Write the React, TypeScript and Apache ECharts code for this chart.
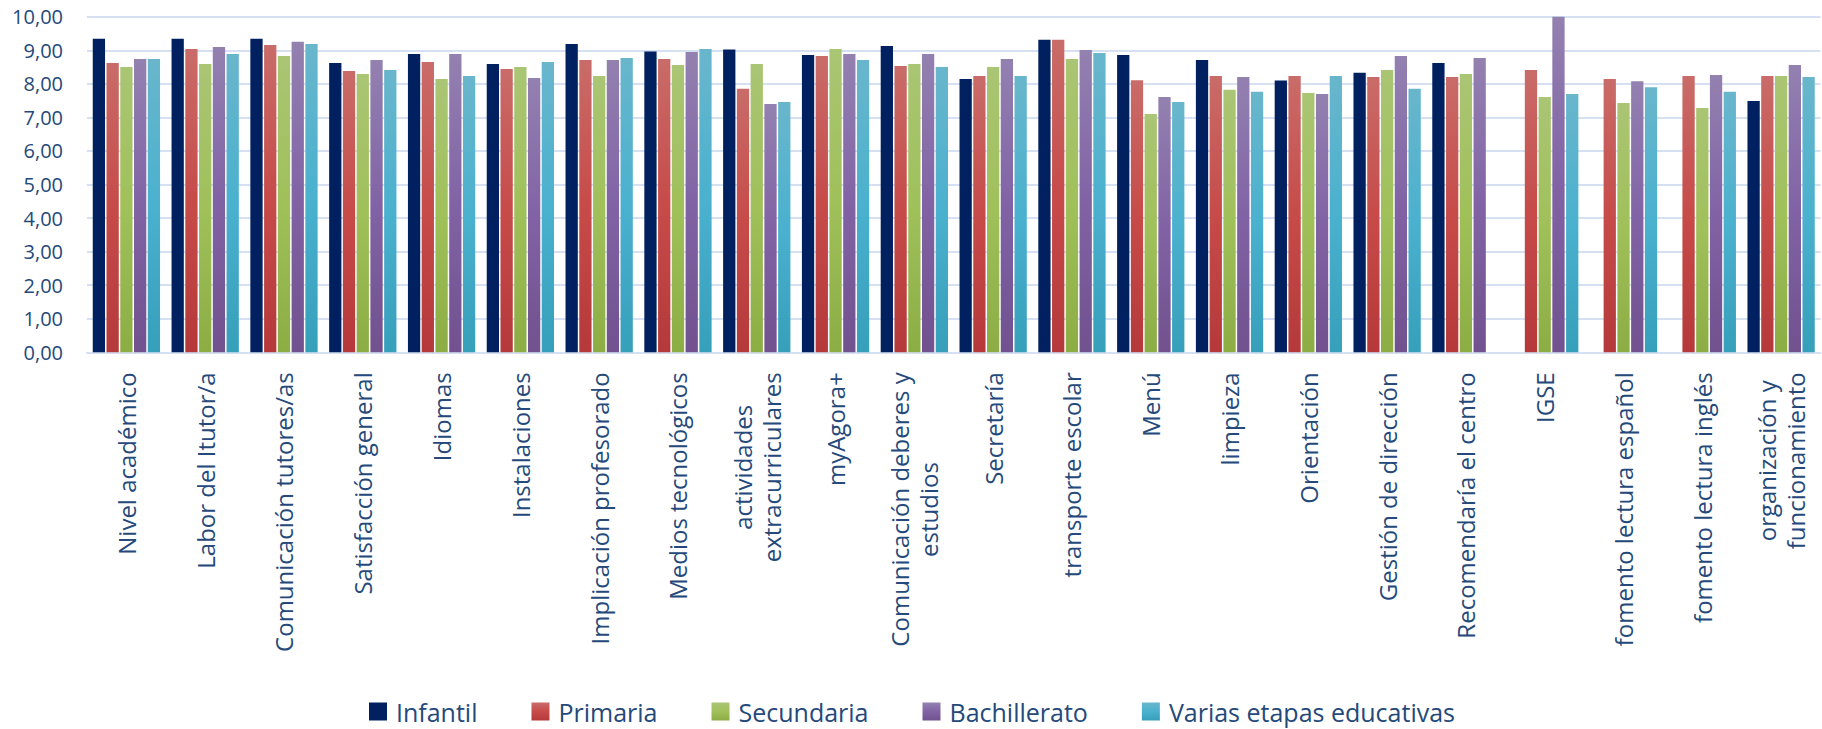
import React, { useEffect, useRef } from "react";
import * as echarts from "echarts";

const categories = [
  "Nivel académico",
  "Labor del Itutor/a",
  "Comunicación tutores/as",
  "Satisfacción general",
  "Idiomas",
  "Instalaciones",
  "Implicación profesorado",
  "Medios tecnológicos",
  "actividades\nextracurriculares",
  "myAgora+",
  "Comunicación deberes y\nestudios",
  "Secretaría",
  "transporte escolar",
  "Menú",
  "limpieza",
  "Orientación",
  "Gestión de dirección",
  "Recomendaría el centro",
  "IGSE",
  "fomento lectura español",
  "fomento lectura inglés",
  "organización y\nfuncionamiento",
];

const seriesNames = ["Infantil", "Primaria", "Secundaria", "Bachillerato", "Varias etapas educativas"];

const infantil = [9.34, 9.34, 9.34, 8.62, 8.89, 8.59, 9.19, 8.96, 9.02, 8.86, 9.13, 8.14, 9.31, 8.86, 8.71, 8.1, 8.33, 8.62, null, null, null, 7.49];
const primaria = [8.62, 9.04, 9.16, 8.38, 8.65, 8.44, 8.71, 8.74, 7.85, 8.83, 8.53, 8.23, 9.31, 8.11, 8.23, 8.23, 8.2, 8.2, 8.41, 8.14, 8.23, 8.23];
const secundaria = [8.5, 8.59, 8.83, 8.29, 8.14, 8.5, 8.23, 8.56, 8.59, 9.04, 8.59, 8.5, 8.74, 7.1, 7.82, 7.73, 8.41, 8.29, 7.61, 7.43, 7.28, 8.23];
const bachillerato = [8.74, 9.1, 9.25, 8.71, 8.89, 8.17, 8.71, 8.95, 7.4, 8.89, 8.89, 8.74, 9.01, 7.61, 8.2, 7.7, 8.83, 8.77, 10.0, 8.08, 8.26, 8.56];
const varias = [8.74, 8.89, 9.19, 8.41, 8.23, 8.65, 8.77, 9.04, 7.46, 8.71, 8.5, 8.23, 8.92, 7.46, 7.76, 8.23, 7.85, null, 7.7, 7.9, 7.76, 8.2];

const seriesValues = [infantil, primaria, secundaria, bachillerato, varias];

const TEXT = "#24497A";
const FONT = "'Open Sans', 'Noto Sans', sans-serif";

function grad(top: string, mid: string, bottom: string) {
  return new echarts.graphic.LinearGradient(0, 0, 0, 1, [
    { offset: 0, color: top },
    { offset: 0.5, color: mid },
    { offset: 1, color: bottom },
  ]);
}

export default function App() {
  const ref = useRef<HTMLDivElement>(null);

  useEffect(() => {
    if (!ref.current) return;
    const chart = echarts.init(ref.current, null, { renderer: "svg" });

    const colors = [
      "#002060",
      grad("#C96C69", "#C64B49", "#B5393A"),
      grad("#AAC574", "#A0C05A", "#8CAD44"),
      grad("#9381B0", "#8163A5", "#71518E"),
      grad("#69B6CC", "#4AB1CE", "#369FBA"),
    ];

    const option: any = {
      animation: false,
      backgroundColor: "#ffffff",
      grid: { left: 87, right: 1.5, top: 16.7, height: 335.6, containLabel: false },
      legend: {
        left: 364,
        top: 694,
        itemWidth: 18,
        itemHeight: 18,
        itemGap: 54,
        icon: "rect",
        textStyle: {
          fontSize: 25,
          lineHeight: 25,
          color: TEXT,
          fontFamily: FONT,
          padding: [0, 0, 0, 4],
        },
        data: seriesNames,
      },
      xAxis: {
        type: "category",
        data: categories,
        axisTick: { show: false },
        axisLine: { lineStyle: { color: "#D5E1F2", width: 2 } },
        axisLabel: {
          interval: 0,
          rotate: 90,
          margin: 20,
          color: TEXT,
          fontFamily: FONT,
          fontSize: 24,
          lineHeight: 29,
          formatter: (v: string) =>
            v
              .split("\n")
              .map((l) => "{c|" + l + "}")
              .join("\n"),
          rich: {
            c: {
              align: "center",
              color: TEXT,
              fontFamily: FONT,
              fontSize: 24,
              lineHeight: 29,
            },
          },
        },
      },
      yAxis: {
        type: "value",
        min: 0,
        max: 10,
        interval: 1,
        axisLine: { show: false },
        axisTick: { show: false },
        splitLine: { lineStyle: { color: "#D5E1F2", width: 2 } },
        axisLabel: {
          margin: 24,
          color: TEXT,
          fontFamily: FONT,
          fontSize: 20,
          formatter: (v: number) => v.toFixed(2).replace(".", ","),
        },
      },
      series: seriesNames.map((name, i) => ({
        name,
        type: "bar",
        data: seriesValues[i].map((v) => (v === null ? "-" : v)),
        barGap: "12%",
        barCategoryGap: "14.6%",
        itemStyle: { color: colors[i] },
      })),
    };

    chart.setOption(option);
    return () => chart.dispose();
  }, []);

  return (
    <div
      ref={ref}
      style={{ position: "fixed", left: 0, top: 0, width: 1822, height: 729, background: "#fff" }}
    />
  );
}
